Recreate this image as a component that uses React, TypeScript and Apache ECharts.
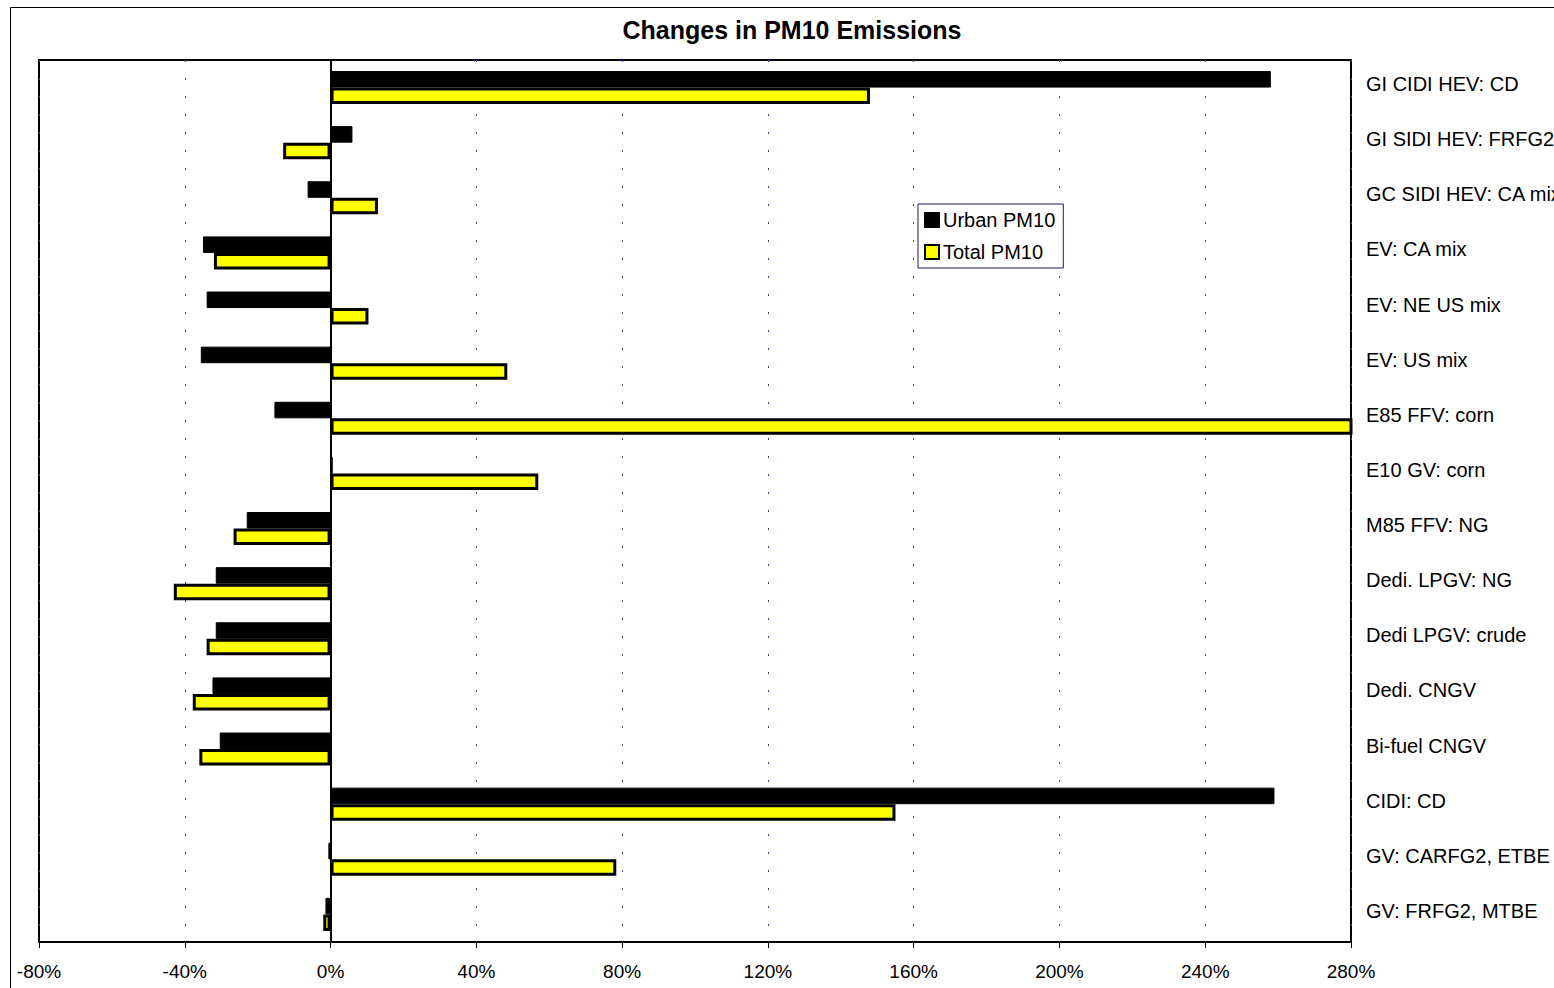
import React, { useEffect, useRef } from "react";
import * as echarts from "echarts";

const categories = [
  "GI CIDI HEV: CD",
  "GI SIDI HEV: FRFG2",
  "GC SIDI HEV: CA mix",
  "EV: CA mix",
  "EV: NE US mix",
  "EV: US mix",
  "E85 FFV: corn",
  "E10 GV: corn",
  "M85 FFV: NG",
  "Dedi. LPGV: NG",
  "Dedi LPGV: crude",
  "Dedi. CNGV",
  "Bi-fuel CNGV",
  "CIDI: CD",
  "GV: CARFG2, ETBE",
  "GV: FRFG2, MTBE",
];

const urbanPM10 = [258, 6, -6.3, -35, -34, -35.6, -15.4, 0.6, -23, -31.5, -31.5, -32.4, -30.4, 259, -0.6, -1.4];
const totalPM10 = [148, -13, 13, -32, 10.4, 48.5, 300, 57, -26.6, -43, -34, -37.8, -36, 155, 78.4, -2];

const FONT = "'Liberation Sans', Arial, sans-serif";

export default function App() {
  const ref = useRef<HTMLDivElement>(null);
  useEffect(() => {
    if (!ref.current) return;
    const chart = echarts.init(ref.current, undefined, { renderer: "svg" });
    chart.setOption({
      animation: false,
      backgroundColor: "#ffffff",
      title: {
        text: "Changes in PM10 Emissions",
        left: 787,
        top: 12,
        textAlign: "center",
        textStyle: { fontFamily: FONT, fontSize: 25, fontWeight: "bold", color: "#000" },
      },
      legend: {
        orient: "vertical",
        left: 918,
        top: 204,
        itemWidth: 14,
        itemHeight: 14,
        itemGap: 12,
        padding: [6, 8, 6, 6],
        borderColor: "#1a1a66",
        borderWidth: 1,
        backgroundColor: "#fff",
        icon: "rect",
        textStyle: { fontFamily: FONT, fontSize: 20, color: "#000", padding: [0, 0, 0, -1] },
        data: ["Urban PM10", "Total PM10"],
      },
      graphic: [
        {
          type: "rect",
          shape: { x: 10.5, y: 7.5, width: 1600, height: 1000 },
          style: { fill: "none", stroke: "#000", lineWidth: 1 },
          z: -1,
        },
      ],
      grid: {
        left: 39,
        right: 203,
        top: 60,
        bottom: 46,
        containLabel: false,
        outerBoundsMode: "none",
        show: true,
        borderColor: "#000",
        borderWidth: 2,
        backgroundColor: "transparent",
      },
      xAxis: {
        type: "value",
        min: -80,
        max: 280,
        interval: 40,
        axisLine: { show: true, lineStyle: { color: "#000", width: 2 } },
        axisTick: { show: true, length: 6, lineStyle: { color: "#000" } },
        axisLabel: {
          formatter: "{value}%",
          fontFamily: FONT,
          fontSize: 19,
          color: "#000",
          margin: 20,
        },
        splitLine: { show: true, lineStyle: { color: "#3344aa", width: 1, type: [2, 16] } },
      },
      yAxis: {
        type: "category",
        data: categories,
        inverse: true,
        position: "right",
        axisLine: { show: false },
        axisTick: { show: false },
        axisLabel: {
          margin: 15,
          formatter: (v: string) => `{a|${v}}`,
          rich: { a: { fontFamily: FONT, fontSize: 20, color: "#000", padding: [0, 0, 7, 0] } },
        },
        splitLine: { show: false },
      },
      series: [
        {
          name: "Urban PM10",
          type: "bar",
          data: urbanPM10,
          barGap: "0%",
          barCategoryGap: "40%",
          itemStyle: { color: "#000000", borderColor: "#000000", borderWidth: 1 },
          markLine: {
            silent: true,
            symbol: "none",
            label: { show: false },
            lineStyle: { color: "#000", width: 2, type: "solid" },
            data: [{ xAxis: 0 }],
          },
        },
        {
          name: "Total PM10",
          type: "bar",
          data: totalPM10,
          barGap: "0%",
          barCategoryGap: "40%",
          itemStyle: { color: "#ffff00", borderColor: "#000000", borderWidth: 3 },
        },
      ],
    });
    return () => chart.dispose();
  }, []);
  return <div ref={ref} style={{ position: "fixed", left: 0, top: 0, width: 1554, height: 988 }} />;
}
